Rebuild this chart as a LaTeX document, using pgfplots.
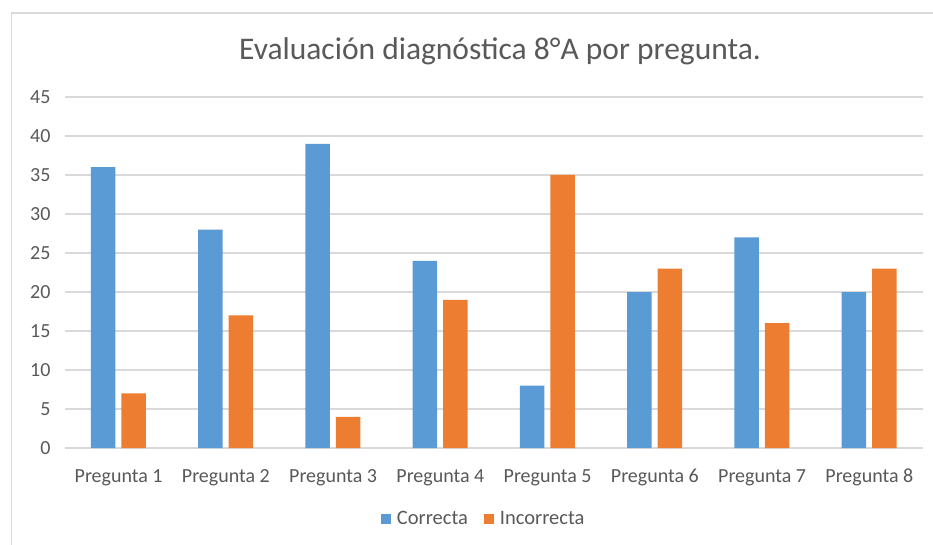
\documentclass[border=0pt]{standalone}
\usepackage{pgfplots}
\pgfplotsset{compat=1.18}
\usepackage{fontspec}
\setmainfont{Carlito}
\definecolor{cblue}{HTML}{5B9BD5}
\definecolor{corange}{HTML}{ED7D31}
\definecolor{gridgray}{HTML}{D9D9D9}
\definecolor{txtgray}{HTML}{595959}
\begin{document}
\begin{tikzpicture}
\useasboundingbox (0,0) rectangle (933pt,544pt);
\fill[white] (0,0) rectangle (933pt,544pt);
\draw[gridgray, line width=1.2pt] (11.5pt,-20pt) rectangle (960pt,531pt);
\begin{axis}[
  at={(65pt,96pt)}, anchor=south west,
  scale only axis, width=858pt, height=351pt,
  xmin=-0.5, xmax=7.5, ymin=0, ymax=45,
  ytick={0,5,...,45},
  xtick={0,...,7},
  xticklabels={Pregunta 1,Pregunta 2,Pregunta 3,Pregunta 4,Pregunta 5,Pregunta 6,Pregunta 7,Pregunta 8},
  axis line style={draw=none},
  major tick length=0pt,
  tick style={draw=none},
  ymajorgrids,
  grid style={gridgray, line width=1.2pt},
  /pgf/number format/assume math mode=true,
  tick label style={font=\fontsize{20}{23}\selectfont, text=txtgray},
  yticklabel style={xshift=-11pt},
  xticklabel style={yshift=-18pt, text height=13pt, text depth=4pt},
  ybar,
  bar width=24.5pt,
  legend image code/.code={\fill[#1] (0pt,-5pt) rectangle (10pt,5pt); \path (14pt,0pt);},
  legend style={at={(0.488,-0.202)}, anchor=center, draw=none, fill=none,
    legend columns=2, font=\fontsize{20.5}{23}\selectfont, text=txtgray,
    /tikz/every even column/.append style={column sep=14pt}},
  title={Evaluación diagnóstica 8°A por pregunta.},
  title style={font=\fontsize{31.5}{36}\selectfont, text=txtgray, at={(0.507,1)}, anchor=south, yshift=23pt},
]
\addplot[fill=cblue, draw=none, bar shift=-15.5pt] coordinates {(0,36) (1,28) (2,39) (3,24) (4,8) (5,20) (6,27) (7,20)};
\addplot[fill=corange, draw=none, bar shift=15pt] coordinates {(0,7) (1,17) (2,4) (3,19) (4,35) (5,23) (6,16) (7,23)};
\legend{Correcta,Incorrecta}
\end{axis}
\end{tikzpicture}
\end{document}
